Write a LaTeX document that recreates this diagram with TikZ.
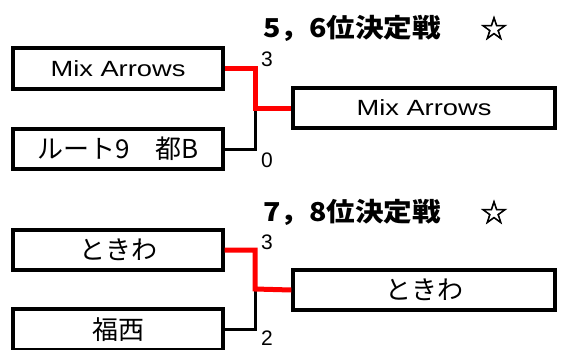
\documentclass[tikz,border=0pt]{standalone}
\usepackage{fontspec}
\setmainfont{Liberation Sans}
\newfontfamily\latw{Liberation Sans}[FakeStretch=1.24]
\newfontfamily\jp{Noto Sans CJK JP}
\newfontfamily\jpt{Noto Sans CJK JP}[FakeStretch=1.1]
\newfontfamily\symf{DejaVu Sans}[FakeBold=2]
\tikzset{
  team/.style={draw=black, line width=3.2pt, fill=white, inner sep=0pt,
    minimum width=210pt, minimum height=40pt},
  winner/.style={team, minimum width=262pt},
  latin/.style={font=\latw\fontsize{22}{26}\selectfont},
  kana/.style={font=\jp\fontsize{26}{30}\selectfont},
  score/.style={font=\fontsize{21}{23}\selectfont, inner sep=0pt},
  title/.style={font=\jpt\bfseries\fontsize{26}{30}\selectfont, inner sep=0pt, anchor=base west},
  star/.style={font=\symf\fontsize{32}{36}\selectfont, inner sep=0pt},
  winline/.style={draw=red, line width=5pt},
  loseline/.style={draw=black, line width=3pt}
}
\begin{document}
\begin{tikzpicture}[x=1pt, y=-1pt]
\useasboundingbox (0,0) rectangle (562,349);
\clip (0,0) rectangle (562,349);
% 5,6
\node[title] (t1) at (263,37) {5，6位決定戦};
\node[star] (s1) at (494,28) {☆};
\node[team, latin, minimum height=41pt] (b1) at (118,68.5) {Mix Arrows};
\node[team, kana] (b2) at (118,149) {ルート9　都B};
\node[winner, latin] (b3) at (424,108) {Mix Arrows};
\coordinate (j1) at (255,108);
\draw[loseline] (b2.east) -| (j1);
\draw[winline] (b1.east) -| (j1) -- (b3.west);
\node[score] (n1) at (267,59) {3};
\node[score] (n2) at (267,160) {0};
% 7,8
\node[title] (t2) at (263,221) {7，8位決定戦};
\node[star] (s2) at (494,212) {☆};
\node[team, kana] (b4) at (118,250) {ときわ};
\node[team, kana, minimum height=41pt] (b5) at (118,329.5) {福西};
\node[winner, kana] (b6) at (424,290) {ときわ};
\coordinate (j2) at (255,289);
\draw[loseline] (b5.east) -| (j2);
\draw[winline] (b4.east) -| (j2) -- (b6.west);
\node[score] (n3) at (267,242) {3};
\node[score] (n4) at (267,338) {2};
\end{tikzpicture}
\end{document}
